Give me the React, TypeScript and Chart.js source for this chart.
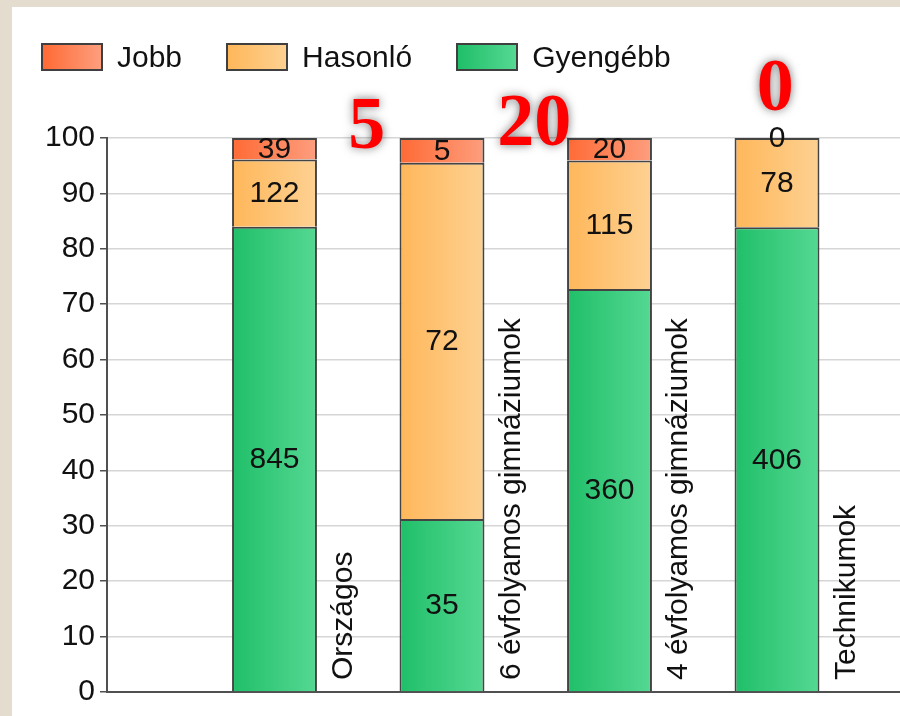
import React, { useEffect, useRef } from "react";
import { Chart, registerables } from "chart.js";

Chart.register(...registerables);

const categories = ["Országos", "6 évfolyamos gimnáziumok", "4 évfolyamos gimnáziumok", "Technikumok"];
const seriesNames = ["Jobb", "Hasonló", "Gyengébb"];
const jobbCounts = [39, 5, 20, 0];
const hasonloCounts = [122, 72, 115, 78];
const gyengebbCounts = [845, 35, 360, 406];
const yTicks = [0, 10, 20, 30, 40, 50, 60, 70, 80, 90, 100];

// big red annotations, placed in data space (category index, percent)
const annotationTexts = ["5", "20", "0"];
const annotationX = [1.55, 2.55, 3.99];
const annotationY = [98.2, 98.7, 105];

const jobbColors = ["#ff6a35", "#fd9e7e"];
const hasonloColors = ["#ffb75a", "#fdd192"];
const gyengebbColors = ["#20bf69", "#55d893"];

const FONT = "'Liberation Sans', Arial, sans-serif";
const BAR_PCT = 0.507;

const totals = categories.map((_, i) => jobbCounts[i] + hasonloCounts[i] + gyengebbCounts[i]);
const pct = (arr: number[]) => arr.map((v, i) => (v / totals[i]) * 100);
const pad = (arr: (number | null)[]) => [null, ...arr, null];

function gradientFor(colors: string[]) {
  return (ctx: any) => {
    const chart = ctx.chart;
    const xs = chart.scales && chart.scales.x;
    if (!xs || ctx.type !== "data") return colors[0];
    const cx = xs.getPixelForValue(ctx.dataIndex);
    const step = xs.getPixelForValue(1) - xs.getPixelForValue(0);
    const w = step * BAR_PCT;
    if (!isFinite(cx) || !isFinite(w) || w <= 0) return colors[0];
    const g = chart.ctx.createLinearGradient(cx - w / 2, 0, cx + w / 2, 0);
    g.addColorStop(0, colors[0]);
    g.addColorStop(1, colors[1]);
    return g;
  };
}

const labelPlugin = {
  id: "labels",
  afterDatasetsDraw(chart: any) {
    const c = chart.ctx;
    const counts = chart.data.datasets.map((d: any) => d.counts);
    c.save();
    c.font = `30px ${FONT}`;
    c.fillStyle = "#111111";
    c.textAlign = "center";
    c.textBaseline = "middle";
    chart.data.datasets.forEach((ds: any, di: number) => {
      const meta = chart.getDatasetMeta(di);
      meta.data.forEach((el: any, idx: number) => {
        const v = counts[di][idx];
        if (v === null || v === undefined) return;
        const p = el.getProps(["x", "y", "base"], true);
        c.fillText(String(v), p.x, (p.y + p.base) / 2 + 1);
      });
    });
    c.restore();
  },
  afterDraw(chart: any) {
    const c = chart.ctx;
    const xs = chart.scales.x;
    const ys = chart.scales.y;
    const step = xs.getPixelForValue(1) - xs.getPixelForValue(0);
    c.save();
    c.font = `30px ${FONT}`;
    c.fillStyle = "#111111";
    categories.forEach((cat, i) => {
      const x = xs.getPixelForValue(i + 1) + step * 0.415;
      c.save();
      c.translate(x, chart.chartArea.bottom - 12);
      c.rotate(-Math.PI / 2);
      c.textAlign = "left";
      c.textBaseline = "middle";
      c.fillText(cat, 0, 0);
      c.restore();
    });
    c.restore();
    c.save();
    c.font = `bold 74px 'Liberation Serif', 'Times New Roman', serif`;
    c.fillStyle = "#ff0000";
    c.textAlign = "center";
    c.textBaseline = "alphabetic";
    c.shadowColor = "rgba(0,0,0,0.55)";
    c.shadowBlur = 10;
    c.shadowOffsetX = 0;
    c.shadowOffsetY = 0;
    annotationTexts.forEach((t, i) => {
      const x = xs.left + annotationX[i] * step;
      const y = ys.getPixelForValue(annotationY[i]);
      c.fillText(t, x, y);
    });
    c.restore();
  },
};

function LegendItem({ name, colors }: { name: string; colors: string[] }) {
  return (
    <div style={{ display: "flex", alignItems: "center", marginRight: 44 }}>
      <div
        style={{
          width: 58,
          height: 24,
          border: "2px solid #3f3f3f",
          background: `linear-gradient(to right, ${colors[0]}, ${colors[1]})`,
          marginRight: 14,
        }}
      />
      <span style={{ font: `30px ${FONT}`, color: "#111111", lineHeight: "28px" }}>{name}</span>
    </div>
  );
}

export default function App() {
  const ref = useRef<HTMLCanvasElement>(null);
  useEffect(() => {
    if (!ref.current) return;
    const labels = ["", ...categories, ""];
    const chart = new Chart(ref.current, {
      type: "bar",
      data: {
        labels,
        datasets: [
          { label: seriesNames[2], data: pad(pct(gyengebbCounts)), counts: pad(gyengebbCounts), backgroundColor: gradientFor(gyengebbColors) },
          { label: seriesNames[1], data: pad(pct(hasonloCounts)), counts: pad(hasonloCounts), backgroundColor: gradientFor(hasonloColors) },
          { label: seriesNames[0], data: pad(pct(jobbCounts)), counts: pad(jobbCounts), backgroundColor: gradientFor(jobbColors) },
        ].map((d: any) => ({
          ...d,
          borderColor: "#444444",
          borderWidth: 2,
          borderSkipped: "start",
          barPercentage: BAR_PCT,
          categoryPercentage: 1,
        })),
      },
      options: {
        animation: false,
        responsive: false,
        devicePixelRatio: 1,
        layout: { padding: { top: 138, bottom: 24, left: 0, right: 55.5 } },
        plugins: { legend: { display: false }, tooltip: { enabled: false } },
        scales: {
          x: {
            type: "category",
            stacked: true,
            offset: false,
            grid: { display: false },
            ticks: { display: false },
            border: { display: true, color: "#505050", width: 2 },
            afterFit: (s: any) => {
              s.height = 0;
            },
          },
          y: {
            stacked: true,
            min: 0,
            max: 100,
            afterBuildTicks: (s: any) => {
              s.ticks = yTicks.map((v) => ({ value: v }));
            },
            ticks: {
              font: { size: 30, family: FONT },
              color: "#111111",
              padding: 5,
            },
            grid: { color: "#d6d6d6", lineWidth: 1.5, tickLength: 7, tickColor: "#505050" },
            border: { display: true, color: "#505050", width: 2 },
            afterFit: (s: any) => {
              s.width = 107;
            },
          },
        },
      },
      plugins: [labelPlugin],
    } as any);
    chart.update();
    return () => chart.destroy();
  }, []);

  return (
    <div
      style={{
        position: "fixed",
        left: 0,
        top: 0,
        width: 900,
        height: 716,
        overflow: "hidden",
        background: "#e4dccf",
      }}
    >
      <div style={{ position: "absolute", left: 12, top: 7, width: 1000, height: 800, background: "#ffffff" }} />
      <canvas
        ref={ref}
        width={1000}
        height={716}
        style={{ position: "absolute", left: 0, top: 0, width: 1000, height: 716 }}
      />
      <div style={{ position: "absolute", left: 41, top: 43, display: "flex", alignItems: "center" }}>
        <LegendItem name={seriesNames[0]} colors={jobbColors} />
        <LegendItem name={seriesNames[1]} colors={hasonloColors} />
        <LegendItem name={seriesNames[2]} colors={gyengebbColors} />
      </div>
    </div>
  );
}
